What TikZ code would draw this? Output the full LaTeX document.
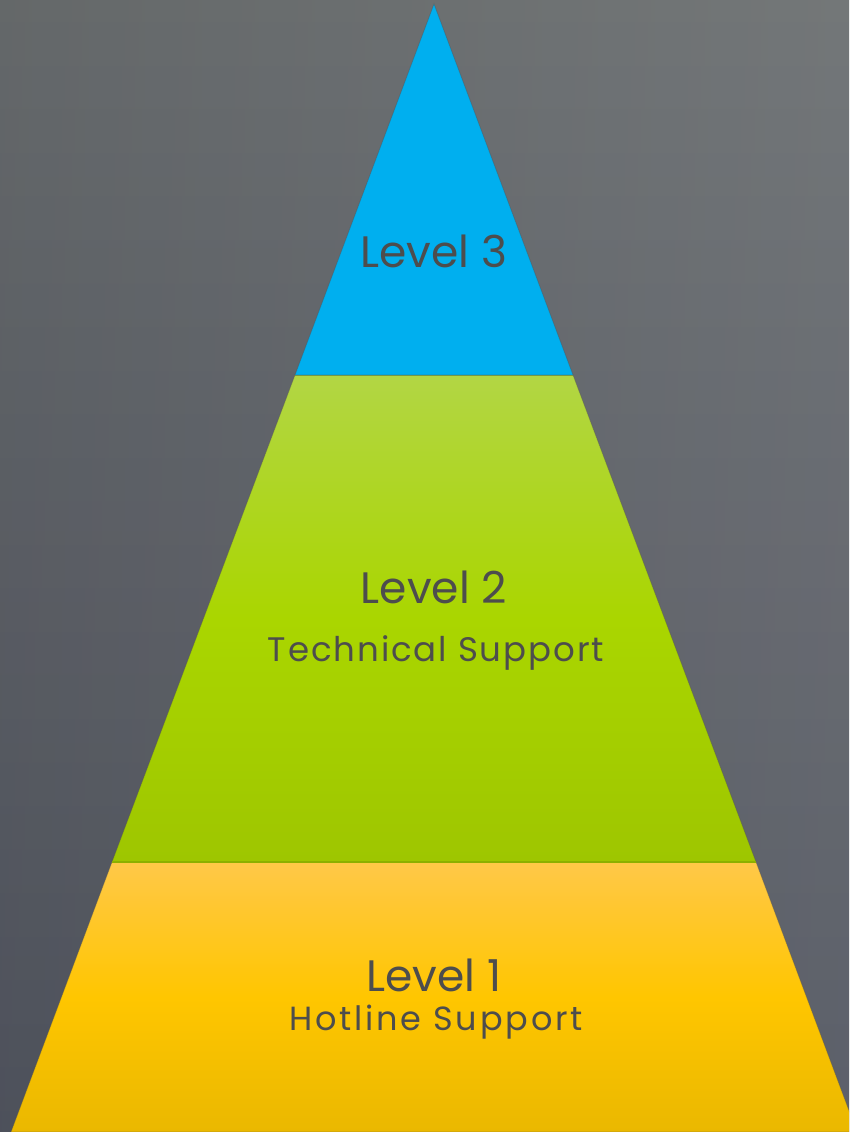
\documentclass[tikz,border=0pt]{standalone}
\usepackage{fontspec}
\setmainfont{Poppins}
\newfontfamily\subtechfont[LetterSpace=5.6]{Poppins}
\newfontfamily\subhotfont[LetterSpace=8.4]{Poppins}
\usetikzlibrary{calc}

\definecolor{bgtop}{RGB}{114,118,120}
\definecolor{bgbot}{RGB}{88,92,104}
\definecolor{tierblue}{RGB}{0,175,239}
\definecolor{greentop}{RGB}{178,214,68}
\definecolor{greenmid}{RGB}{170,214,0}
\definecolor{greenbot}{RGB}{158,198,0}
\definecolor{greenedge}{RGB}{140,176,0}
\definecolor{yellowtop}{RGB}{255,200,72}
\definecolor{yellowmid}{RGB}{255,198,0}
\definecolor{yellowbot}{RGB}{234,184,0}
\definecolor{labelgray}{RGB}{77,77,77}

\tikzset{
  tier/.style={draw=black!70, draw opacity=0.35, line width=0.8pt},
  levelname/.style={text=labelgray, font=\fontsize{44}{48}\selectfont, inner sep=0pt, anchor=base},
  levelsub/.style={text=labelgray, inner sep=0pt, anchor=base},
}

\begin{document}
\begin{tikzpicture}[x=1pt,y=-1pt]
  \useasboundingbox (0,0) rectangle (849,1132);
  \clip (0,0) rectangle (849,1132);

  % concrete backdrop
  \fill[top color=bgtop, bottom color=bgbot] (0,0) rectangle (849,1132);
  \fill[left color=black, right color=white, fill opacity=0.06] (0,0) rectangle (849,1132);

  % pyramid corners
  \coordinate (apex) at (434,4);
  \coordinate (l3L) at (295,375);
  \coordinate (l3R) at (573,375);
  \coordinate (l2L) at (112,862);
  \coordinate (l2R) at (756,862);
  \coordinate (l1L) at (11,1132);
  \coordinate (l1R) at (857,1132);

  % tiers
  \path[tier, top color=yellowtop, bottom color=yellowbot, middle color=yellowmid]
    (l2L) -- (l2R) -- (l1R) -- (l1L) -- cycle;
  \path[tier, top color=greentop, bottom color=greenbot, middle color=greenmid]
    (l3L) -- (l3R) -- (l2R) -- (l2L) -- cycle;
  \path[tier, fill=tierblue] (apex) -- (l3R) -- (l3L) -- cycle;

  % seam lines between tiers
  \draw[greenedge, line width=1.2pt] (l2L) -- (l2R);
  \draw[black, opacity=0.15, line width=1pt] (l3L) -- (l3R);

  % labels (placed on their baselines; spaced lines nudged for trailing tracking)
  \node[levelname] (t3) at (434,267) {Level 3};
  \node[levelname] (t2) at (434,603) {Level 2};
  \node[levelsub, font=\subtechfont\fontsize{34}{38}\selectfont] (s2) at (436,661) {Technical Support};
  \node[levelsub, font=\subhotfont\fontsize{33.5}{38}\selectfont] (s1) at (436,1030) {Hotline Support};
  \node[levelname] (t1) at (434,991) {Level 1};
\end{tikzpicture}
\end{document}
